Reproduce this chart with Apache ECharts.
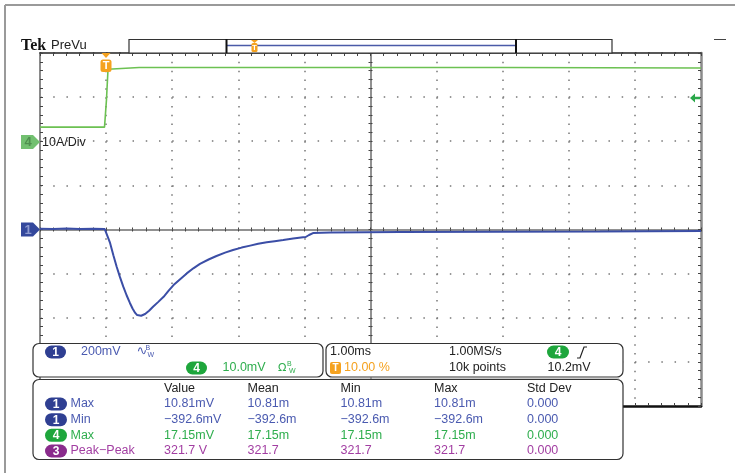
<!DOCTYPE html>
<html><head><meta charset="utf-8">
<script src="https://cdn.jsdelivr.net/npm/echarts@6/dist/echarts.min.js"></script>
<style>html,body{margin:0;padding:0;background:#fff}#c{width:735px;height:473px}</style>
</head><body><div id="c"></div>
<script>
// ---- Data (time in ms, trigger at t=0) ----
const ch1TimeMs = [-1.0,-0.8,-0.6,-0.4,-0.2,-0.02,0.01,0.06,0.11,0.16,0.21,0.26,0.31,0.36,0.40,0.44,0.47,0.50,0.53,0.59,0.65,0.71,0.79,0.87,0.94,1.02,1.12,1.22,1.32,1.42,1.55,1.67,1.80,1.92,2.05,2.18,2.30,2.43,2.55,2.68,2.83,2.98,3.02,3.07,3.13,3.39,4.45,5.96,7.47,9.0];
const ch1Volts  = [0.003,0.002,0.004,0.002,0.003,0.002,-0.002,-0.061,-0.117,-0.169,-0.216,-0.259,-0.298,-0.333,-0.358,-0.378,-0.388,-0.392,-0.391,-0.383,-0.368,-0.350,-0.328,-0.305,-0.279,-0.252,-0.225,-0.199,-0.176,-0.156,-0.136,-0.120,-0.105,-0.093,-0.082,-0.073,-0.065,-0.058,-0.053,-0.048,-0.041,-0.035,-0.034,-0.025,-0.016,-0.014,-0.011,-0.010,-0.009,-0.007];
const ch4TimeMs = [-1.0,-0.5,-0.024,0.006,0.029,0.5,2.0,4.0,6.0,9.0];
const ch4Amps   = [3.2,3.2,3.2,9.5,16.3,16.7,16.7,16.7,16.7,16.6];

const measHeaders = ['Value','Mean','Min','Max','Std Dev'];
const measChannels = ['1','1','4','3'];
const measNames = ['Max','Min','Max','Peak−Peak'];
const measValue = ['10.81mV','−392.6mV','17.15mV','321.7 V'];
const measMean  = ['10.81m','−392.6m','17.15m','321.7'];
const measMin   = ['10.81m','−392.6m','17.15m','321.7'];
const measMax   = ['10.81m','−392.6m','17.15m','321.7'];
const measStd   = ['0.000','0.000','0.000','0.000'];

const BLUE='#4a5ab0', BLUEP='#2f3f92', GREEN='#2fae4e', GREENP='#1ea63c', PURP='#a23ea2', PURPP='#8a2b8c', ORANGE='#f5a21f';
const rowColors = [BLUE,BLUE,GREEN,PURP];
const pillColors = {'1':BLUEP,'4':GREENP,'3':PURPP};
const FONT = '12.5px "Liberation Sans"';

function txt(x,y,s,color,font,align){
  return {type:'text',x:x,y:y,z:120,style:{text:s,fill:color,font:font||FONT,verticalAlign:'middle',align:align||'left'}};
}
function pill(x,y,w,h,color,label){
  return [
    {type:'rect',z:115,shape:{x:x,y:y-h/2,width:w,height:h,r:h/2},style:{fill:color}},
    txt(x+w/2,y+0.5,label,'#fff','bold 12px "Liberation Sans"','center')
  ];
}
function box(x,y,w,h){
  return {type:'rect',z:110,shape:{x:x,y:y,width:w,height:h,r:6},style:{fill:'#fff',stroke:'#333',lineWidth:1.2}};
}

const G = [];
// outer frame
G.push({type:'line',z:100,shape:{x1:5,y1:5,x2:735,y2:5},style:{stroke:'#9a9a9a',lineWidth:2}});
G.push({type:'line',z:100,shape:{x1:5,y1:5,x2:5,y2:473},style:{stroke:'#9a9a9a',lineWidth:2}});
G.push({type:'line',z:100,shape:{x1:714,y1:39.5,x2:726,y2:39.5},style:{stroke:'#444',lineWidth:1}});
// header
G.push(txt(21,45.5,'Tek','#111','bold 16px "Liberation Serif"'));
G.push(txt(51,45.5,'PreVu','#222','13px "Liberation Sans"'));
// record bar
G.push({type:'rect',z:100,shape:{x:129,y:39.5,width:483,height:13.5},style:{fill:'#fff',stroke:'#333',lineWidth:1.2}});
G.push({type:'line',z:101,shape:{x1:227,y1:45.5,x2:516,y2:45.5},style:{stroke:'#4a5aa8',lineWidth:1.5}});
G.push({type:'line',z:102,shape:{x1:226.5,y1:39,x2:226.5,y2:53},style:{stroke:'#111',lineWidth:2}});
G.push({type:'line',z:102,shape:{x1:516,y1:39,x2:516,y2:53},style:{stroke:'#111',lineWidth:2}});
G.push({type:'polygon',z:103,shape:{points:[[251,40],[258,40],[254.5,43]]},style:{fill:ORANGE}});
G.push({type:'rect',z:103,shape:{x:251.5,y:43,width:6,height:9,r:1.5},style:{fill:ORANGE}});
G.push(txt(254.5,47.8,'T','#fff','bold 8px "Liberation Sans"','center'));
// trigger marker in plot
G.push({type:'polygon',z:103,shape:{points:[[101.5,53],[110.5,53],[106,58]]},style:{fill:ORANGE}});
G.push({type:'rect',z:103,shape:{x:100.5,y:59.5,width:11,height:12.5,r:2.5},style:{fill:ORANGE}});
G.push(txt(106,66,'T','#fff','bold 11px "Liberation Sans"','center'));
// channel markers
G.push({type:'polygon',z:103,shape:{points:[[21,135],[33,135],[40,142],[33,149],[21,149]]},style:{fill:'#72c070'}});
G.push(txt(28,142.5,'4','#4f8f4f','bold 13px "Liberation Sans"','center'));
G.push({type:'polygon',z:103,shape:{points:[[21,222.5],[33,222.5],[40,229.5],[33,236.5],[21,236.5]]},style:{fill:'#34489c'}});
G.push(txt(28,230,'1','#8e9ad0','bold 13px "Liberation Sans"','center'));
G.push(txt(42,143,'10A/Div','#222','12.5px "Liberation Sans"'));
// trigger level arrow (right)
G.push({type:'polygon',z:103,shape:{points:[[690,98],[695,93.5],[695,96.8],[700,96.8],[700,99.2],[695,99.2],[695,102.5]]},style:{fill:'#2aa84a'}});
// bottom boxes
G.push(box(33,343.5,290,33.5));
G.push(box(326,343.5,297,33.5));
G.push({type:'line',z:111,shape:{x1:330,y1:378,x2:619,y2:378},style:{stroke:'#999',lineWidth:1}});
G.push(box(33,379.5,590,80));
// box 1
G.push(...pill(45,352,21,13,BLUEP,'1'));
G.push(txt(81,352,'200mV',BLUE));
G.push(txt(136.5,352,'∿',BLUE,'13px "DejaVu Sans"'));
G.push(txt(145.5,348.5,'B',BLUE,'7px "Liberation Sans"'));
G.push(txt(147.5,355.5,'W',BLUE,'7px "Liberation Sans"'));
G.push(...pill(186,368,21,13,GREENP,'4'));
G.push(txt(222.5,368,'10.0mV',GREEN));
G.push(txt(278,368,'Ω',GREEN,'11px "DejaVu Sans"'));
G.push(txt(287,364.5,'B',GREEN,'7px "Liberation Sans"'));
G.push(txt(289,371.5,'W',GREEN,'7px "Liberation Sans"'));
// box 2
G.push(txt(330,352,'1.00ms','#222'));
G.push({type:'rect',z:115,shape:{x:330,y:362,width:11,height:12,r:2},style:{fill:ORANGE}});
G.push(txt(335.5,368.5,'T','#fff','bold 10px "Liberation Sans"','center'));
G.push(txt(344,368,'10.00 %',ORANGE));
G.push(txt(449,352,'1.00MS/s','#222'));
G.push(txt(449,368,'10k points','#222'));
G.push(...pill(547,352,22,13,GREENP,'4'));
G.push({type:'polyline',z:116,shape:{points:[[577,358],[580,358],[584,347],[587,347]]},style:{stroke:'#222',lineWidth:1.2,fill:null}});
G.push(txt(547.5,368,'10.2mV','#222'));
// measurement table
const colX = [164,247.5,340.5,434,527];
measHeaders.forEach((h,i)=>G.push(txt(colX[i],388.5,h,'#222')));
const rowY = [404,419.7,435.3,451];
const cols = [measValue,measMean,measMin,measMax,measStd];
measNames.forEach((n,r)=>{
  G.push(...pill(45,rowY[r],22,13,pillColors[measChannels[r]],measChannels[r]));
  G.push(txt(70.5,rowY[r],n,rowColors[r]));
  cols.forEach((c,i)=>G.push(txt(colX[i],rowY[r],c[r],rowColors[r])));
});

const gridRect = {left:40,top:53,width:661,height:353,outerBoundsMode:'none'};
const tickStyle = {color:'#444',width:1};
const noLabel = {show:false};

const option = {
  animation:false,
  backgroundColor:'#fff',
  grid:[Object.assign({},gridRect),Object.assign({},gridRect)],
  xAxis:[
    {gridIndex:0,type:'value',min:-1,max:9,interval:1,position:'bottom',
      axisLine:{onZero:false,lineStyle:{color:'#111',width:2.5}},
      axisTick:{show:true,inside:true,length:3,lineStyle:tickStyle},
      minorTick:{show:true,splitNumber:5,length:3,lineStyle:tickStyle},
      axisLabel:noLabel,
      splitLine:{show:true,lineStyle:{color:'#777',width:1.5,type:[1.5,7.325]}}},
    {gridIndex:0,type:'value',min:-1,max:9,interval:1,position:'top',
      axisLine:{onZero:false,lineStyle:{color:'#222',width:1.5}},
      axisTick:{show:true,inside:true,length:3,lineStyle:tickStyle},
      minorTick:{show:true,splitNumber:5,length:3,lineStyle:tickStyle},
      axisLabel:noLabel,splitLine:{show:false}},
    {gridIndex:1,type:'value',min:-5,max:5,interval:1,position:'bottom',
      axisLine:{onZero:true,lineStyle:{color:'#8a8a8a',width:1.5}},
      axisTick:{show:true,inside:false,length:2,lineStyle:tickStyle},
      minorTick:{show:true,splitNumber:5,length:2,lineStyle:tickStyle},
      axisLabel:noLabel,splitLine:{show:false}},
    {gridIndex:1,type:'value',min:-5,max:5,interval:1,position:'top',
      axisLine:{onZero:true,lineStyle:{color:'#8a8a8a',width:1.5}},
      axisTick:{show:true,inside:false,length:2,lineStyle:tickStyle},
      minorTick:{show:true,splitNumber:5,length:2,lineStyle:tickStyle},
      axisLabel:noLabel,splitLine:{show:false}}
  ],
  yAxis:[
    {gridIndex:0,type:'value',min:-0.8,max:0.8,interval:0.2,position:'left',
      axisLine:{show:true,onZero:false,lineStyle:{color:'#8a8a8a',width:2}},
      axisTick:{show:true,inside:true,length:3,lineStyle:tickStyle},
      minorTick:{show:true,splitNumber:5,length:3,lineStyle:tickStyle},
      axisLabel:noLabel,
      splitLine:{show:true,lineStyle:{color:'#777',width:1.5,type:[1.5,11.72]}}},
    {gridIndex:0,type:'value',min:-60,max:20,interval:10,position:'right',
      axisLine:{show:true,onZero:false,lineStyle:{color:'#8a8a8a',width:2.5}},
      axisTick:{show:true,inside:true,length:3,lineStyle:tickStyle},
      minorTick:{show:true,splitNumber:5,length:3,lineStyle:tickStyle},
      axisLabel:noLabel,splitLine:{show:false}},
    {gridIndex:1,type:'value',min:-4,max:4,interval:1,position:'left',
      axisLine:{show:true,onZero:true,lineStyle:{color:'#8a8a8a',width:1.5}},
      axisTick:{show:true,inside:false,length:2,lineStyle:tickStyle},
      minorTick:{show:true,splitNumber:5,length:2,lineStyle:tickStyle},
      axisLabel:noLabel,splitLine:{show:false}},
    {gridIndex:1,type:'value',min:-4,max:4,interval:1,position:'right',
      axisLine:{show:true,onZero:true,lineStyle:{color:'#8a8a8a',width:1.5}},
      axisTick:{show:true,inside:false,length:2,lineStyle:tickStyle},
      minorTick:{show:true,splitNumber:5,length:2,lineStyle:tickStyle},
      axisLabel:noLabel,splitLine:{show:false}}
  ],
  series:[
    {name:'CH4',type:'line',xAxisIndex:0,yAxisIndex:1,showSymbol:false,z:5,
      data:ch4TimeMs.map((t,i)=>[t,ch4Amps[i]]),
      lineStyle:{color:'#6cc152',width:1.6}},
    {name:'CH1',type:'line',xAxisIndex:0,yAxisIndex:0,showSymbol:false,z:6,
      data:ch1TimeMs.map((t,i)=>[t,ch1Volts[i]]),
      lineStyle:{color:'#3b4ea6',width:2}}
  ],
  graphic:{elements:G}
};
const chart = echarts.init(document.getElementById('c'),null,{renderer:'canvas'});
chart.setOption(option);
</script></body></html>
